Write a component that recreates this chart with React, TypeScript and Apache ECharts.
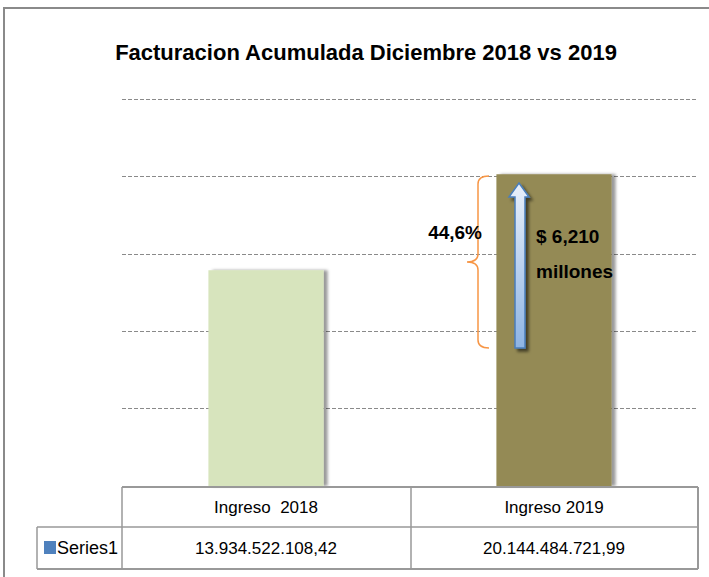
import React, { useEffect, useRef } from "react";
import * as echarts from "echarts";

const categories = ["Ingreso  2018", "Ingreso 2019"];
const values = [13934522108.42, 20144484721.99];
const seriesName = "Series1";
const barColors = ["#d7e4bd", "#948a54"];
const yMax = 25e9;
const yInterval = 5e9;
const titleText = "Facturacion Acumulada Diciembre 2018 vs 2019";
const pctText = "44,6%";
const diffLines = ["$ 6,210", "millones"];

const FONT = '"Liberation Sans", Arial, sans-serif';

function fmtEs(v: number): string {
  const [ip, dp] = v.toFixed(2).split(".");
  const grouped = ip.replace(/\B(?=(\d{3})+(?!\d))/g, ".");
  return grouped + "," + dp;
}

const bracePath =
  "M489,176 Q478,176 478,184 L478,254 Q478,262 467,262 Q478,262 478,270 L478,340 Q478,348 489,348";

export default function App() {
  const ref = useRef<HTMLDivElement>(null);
  useEffect(() => {
    if (!ref.current) return;
    try {
      echarts.graphic.registerShape("brace", echarts.graphic.extendPath(bracePath, {}) as any);
    } catch (e) {}
    const chart = echarts.init(ref.current, null, { renderer: "svg" });
    const lineStyle = { stroke: "#999999", lineWidth: 1.5 };
    const L = (x1: number, y1: number, x2: number, y2: number, ls: any = lineStyle) => ({
      type: "line",
      z: 10,
      shape: { x1, y1, x2, y2 },
      style: ls,
      silent: true,
    });
    const T = (x: number, y: number, text: string, align: string, size: number, bold: boolean) => ({
      type: "text",
      z: 20,
      x,
      y,
      style: {
        text,
        fontFamily: FONT,
        fontWeight: bold ? "bold" : "normal",
        fontSize: size,
        fill: "#000",
        align,
        verticalAlign: "middle",
      },
    });
    chart.setOption({
      animation: false,
      backgroundColor: "#ffffff",
      title: {
        text: titleText,
        left: 361,
        top: 36,
        textAlign: "center",
        textStyle: { fontFamily: FONT, fontWeight: "bold", fontSize: 22, color: "#000" },
      },
      grid: { left: 122, right: 11, top: 99, bottom: 91 },
      xAxis: [
        {
          type: "category",
          data: categories,
          position: "bottom",
          axisLine: { show: false },
          axisTick: { show: false },
          axisLabel: {
            margin: 21,
            verticalAlign: "middle",
            fontFamily: FONT,
            fontSize: 17,
            color: "#000",
          },
        },
        {
          type: "category",
          data: categories,
          position: "bottom",
          offset: 41,
          axisLine: { show: false },
          axisTick: { show: false },
          axisLabel: {
            margin: 21,
            verticalAlign: "middle",
            fontFamily: FONT,
            fontSize: 17,
            color: "#000",
            formatter: (_v: string, i: number) => fmtEs(values[i]),
          },
        },
      ],
      yAxis: {
        type: "value",
        min: 0,
        max: yMax,
        interval: yInterval,
        axisLabel: { show: false },
        axisLine: { show: false },
        axisTick: { show: false },
        splitLine: { lineStyle: { type: [4, 2], color: "#8a8a8a", width: 1 } },
      },
      series: [
        {
          name: seriesName,
          type: "bar",
          barWidth: "40%",
          data: values.map((v, i) => ({
            value: v,
            itemStyle: {
              color: barColors[i],
              shadowColor: "rgba(0,0,0,0.4)",
              shadowOffsetX: 4,
              shadowOffsetY: 0,
              shadowBlur: 3,
            },
          })),
        },
      ],
      graphic: [
        // outer frame
        L(3, 8, 709, 8, { stroke: "#8a8a8a", lineWidth: 2 }),
        L(4, 8, 4, 577, { stroke: "#8a8a8a", lineWidth: 2 }),
        // table
        L(122, 487, 698, 487, { stroke: "#999999", lineWidth: 2 }),
        L(37, 527, 698, 527),
        L(37, 569, 698, 569, { stroke: "#999999", lineWidth: 2 }),
        L(122, 487, 122, 569),
        L(411, 487, 411, 569),
        L(698, 487, 698, 569, { stroke: "#999999", lineWidth: 2 }),
        L(37, 527, 37, 569),
        {
          type: "rect",
          z: 20,
          shape: { x: 44, y: 541, width: 12, height: 13 },
          style: { fill: "#4f81bd" },
        },
        T(57, 548, seriesName, "left", 18, false),
        // brace
        {
          type: "brace",
          z: 20,
          x: 0,
          y: 0,
          style: { fill: "none", stroke: "#f79646", lineWidth: 1.5 },
        },
        // arrow
        {
          type: "polygon",
          z: 20,
          shape: {
            points: [
              [519, 183],
              [529, 197],
              [525, 197],
              [525, 348],
              [515, 348],
              [515, 197],
              [509, 197],
            ],
          },
          style: {
            fill: new echarts.graphic.LinearGradient(0, 0, 0, 1, [
              { offset: 0, color: "#e9f0fb" },
              { offset: 1, color: "#8eb4e3" },
            ]),
            stroke: "#4a7ebb",
            lineWidth: 1.5,
            shadowColor: "rgba(0,0,0,0.55)",
            shadowOffsetX: 3,
            shadowOffsetY: 3,
            shadowBlur: 3,
          },
        },
        T(482, 232, pctText, "right", 19, true),
        T(536, 236, diffLines[0], "left", 19, true),
        T(536, 271, diffLines[1], "left", 19, true),
      ],
    });
    return () => chart.dispose();
  }, []);
  return (
    <div
      ref={ref}
      style={{ position: "absolute", left: 0, top: 0, width: 709, height: 577 }}
    />
  );
}
